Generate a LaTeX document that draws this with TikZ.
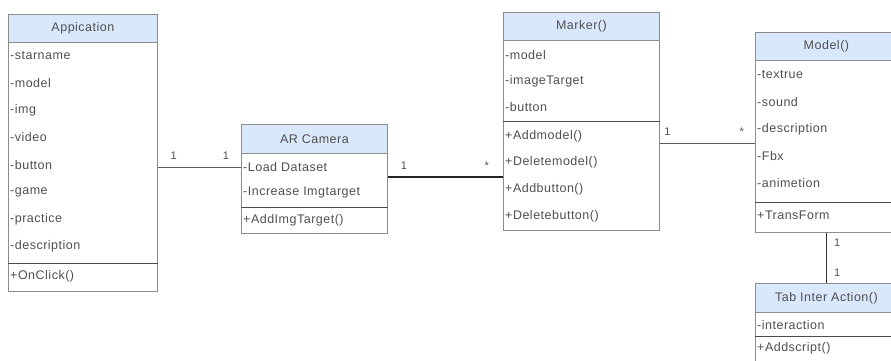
\documentclass[tikz,border=0pt]{standalone}
\usepackage{fontspec}
\setmainfont{Liberation Sans}
\newfontfamily\umlfont{Liberation Sans}[LetterSpace=4]
\usetikzlibrary{positioning}
\definecolor{hdrblue}{HTML}{DAE8FC}
\definecolor{boxgray}{HTML}{8C8C8C}
\definecolor{txtgray}{HTML}{505050}
\tikzset{
  classbox/.style={draw=boxgray, fill=white, anchor=north west, inner sep=0pt, line width=0.8pt},
  classhead/.style={draw=boxgray, fill=hdrblue, anchor=north west, inner sep=0pt, line width=0.8pt,
    font=\umlfont\fontsize{12.5}{14}\selectfont, text=txtgray},
  member/.style={anchor=west, inner sep=0pt, font=\umlfont\fontsize{12.5}{14}\selectfont, text=txtgray},
  divider/.style={draw=black!70, line width=1pt},
  assoc/.style={draw=black!65, line width=0.9pt},
  mult/.style={font=\fontsize{11}{13}\selectfont, text=txtgray, inner sep=1pt},
}
\begin{document}
\begin{tikzpicture}[x=1pt, y=-1pt]
\useasboundingbox (0,0) rectangle (891,360);
\clip (0,0) rectangle (891,360);

% Application
\node[classbox, minimum width=149pt, minimum height=277pt] (app) at (8,14) {};
\node[classhead, minimum width=149pt, minimum height=28pt] (apphead) at (8,14) {Appication};
\foreach \t [count=\i from 0] in {starname,model,img,video,button,game,practice,description}
  \node[member] (app\i) at (10, 55.5+27.3*\i) {-\t};
\draw[divider] (app.west |- 0,263) -- (app.east |- 0,263);
\node[member] (appop) at (10,276) {+OnClick()};

% AR Camera
\node[classbox, minimum width=146pt, minimum height=109pt] (cam) at (241,124) {};
\node[classhead, minimum width=146pt, minimum height=29pt] (camhead) at (241,124) {AR Camera};
\node[member] (cam0) at (243,167) {-Load Dataset};
\node[member] (cam1) at (243,192) {-Increase Imgtarget};
\draw[divider] (cam.west |- 0,207) -- (cam.east |- 0,207);
\node[member] (camop) at (243,220) {+AddImgTarget()};

% Marker
\node[classbox, minimum width=156pt, minimum height=218pt] (marker) at (503,12) {};
\node[classhead, minimum width=156pt, minimum height=28pt] (markerhead) at (503,12) {Marker()};
\foreach \t [count=\i from 0] in {model,imageTarget,button}
  \node[member] (marker\i) at (505, 55+26*\i) {-\t};
\draw[divider] (marker.west |- 0,121) -- (marker.east |- 0,121);
\foreach \t [count=\i from 0] in {Addmodel,Deletemodel,Addbutton,Deletebutton}
  \node[member] (markerop\i) at (505, 136+26.7*\i) {+\t()};

% Model
\node[classbox, minimum width=142pt, minimum height=200pt] (model) at (755,32) {};
\node[classhead, minimum width=142pt, minimum height=28pt] (modelhead) at (755,32) {Model()};
\foreach \t [count=\i from 0] in {textrue,sound,description,Fbx,animetion}
  \node[member] (model\i) at (757, 75+27*\i) {-\t};
\draw[divider] (model.west |- 0,202) -- (model.east |- 0,202);
\node[member] (modelop) at (757,215) {+TransForm};

% Tab Inter Action
\node[classbox, minimum width=142pt, minimum height=80pt] (tab) at (755,283) {};
\node[classhead, minimum width=142pt, minimum height=29pt] (tabhead) at (755,283) {Tab Inter Action()};
\node[member] (tab0) at (757,325) {-interaction};
\draw[divider] (tab.west |- 0,336) -- (tab.east |- 0,336);
\node[member] (tabop) at (757,348) {+Addscript()};

% Associations
\draw[assoc] (app.east |- 0,167) -- (cam.west |- 0,167)
  node[mult, pos=0.19, above=6pt] {1} node[mult, pos=0.82, above=6pt] {1};
\draw[assoc, draw=black!85, line width=1.3pt] (cam.east |- 0,177) -- (marker.west |- 0,177)
  node[mult, pos=0.14, above=6pt] {1} node[mult, pos=0.86, above=6pt] {*};
\draw[assoc] (marker.east |- 0,143) -- (model.west |- 0,143)
  node[mult, pos=0.08, above=6pt] {1} node[mult, pos=0.86, above=6pt] {*};
\draw[assoc, draw=black!80, line width=1.4pt] (model.south) -- (tab.north)
  node[mult, pos=0.2, right=6pt] {1} node[mult, pos=0.8, right=6pt] {1};
\end{tikzpicture}
\end{document}
